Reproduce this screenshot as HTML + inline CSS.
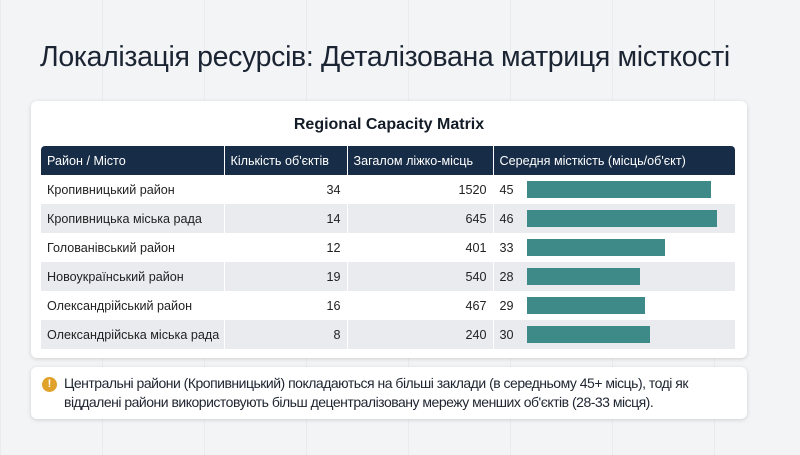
<!DOCTYPE html><html><head><meta charset="utf-8"><style>
body{margin:0;width:800px;height:455px;overflow:hidden;background:#f3f4f5;font-family:"Liberation Sans",sans-serif;position:relative;
background-image:linear-gradient(90deg,rgba(0,0,0,0.035) 1px,transparent 1px);background-size:102px 100%;}
h1{position:absolute;left:40px;top:41px;margin:0;font-size:28.5px;font-weight:normal;color:#1b2433;letter-spacing:-0.35px}
.card{position:absolute;left:31px;top:101px;width:716px;height:257px;background:#fff;border-radius:6px;box-shadow:0 1px 4px rgba(0,0,0,0.15)}
.card h2{margin:0;position:absolute;top:15px;width:100%;text-align:center;font-size:16px;color:#141c28}
table{position:absolute;left:10px;top:45px;border-collapse:collapse;font-size:12.6px;color:#222;table-layout:fixed;width:694px}
th{background:#172c46;color:#fff;font-weight:normal;height:29px;text-align:left;padding:0 6px;border-right:1px solid #fff;white-space:nowrap;overflow:hidden}
th:last-child{border-right:0;border-radius:0 4px 0 0}th:first-child{border-radius:4px 0 0 0}
td{height:29px;padding:0 6px;border-right:1px solid #fff;white-space:nowrap;overflow:hidden}
tr:nth-child(odd) td{background:#e9ebef}
td.n{text-align:right}
.c{display:flex;align-items:center}
.bar{display:inline-block;height:17px;background:#3e8a88;margin-left:13px}
.note{position:absolute;left:31px;top:367px;width:716px;height:52px;background:#fff;border-radius:6px;box-shadow:0 1px 4px rgba(0,0,0,0.15);font-size:14px;color:#1e2530;line-height:19px}
.note .t{position:absolute;left:33px;top:7px;letter-spacing:-0.5px;white-space:nowrap}
.ic{position:absolute;left:11px;top:10px;width:15px;height:15px;border-radius:50%;background:#e0a22a;color:#fff;font-size:11px;text-align:center;line-height:15px;font-weight:bold}
</style></head><body>
<h1>Локалізація ресурсів: Деталізована матриця місткості</h1>
<div class="card"><h2>Regional Capacity Matrix</h2>
<table>
<colgroup><col style="width:183px"><col style="width:123px"><col style="width:146px"><col style="width:242px"></colgroup>
<tr><th>Район / Місто</th><th>Кількість об'єктів</th><th>Загалом ліжко-місць</th><th>Середня місткість (місць/об'єкт)</th></tr>
<tr><td>Кропивницький район</td><td class="n">34</td><td class="n">1520</td><td><div class="c">45<span class="bar" style="width:184px"></span></div></td></tr>
<tr><td>Кропивницька міська рада</td><td class="n">14</td><td class="n">645</td><td><div class="c">46<span class="bar" style="width:190px"></span></div></td></tr>
<tr><td>Голованівський район</td><td class="n">12</td><td class="n">401</td><td><div class="c">33<span class="bar" style="width:138px"></span></div></td></tr>
<tr><td>Новоукраїнський район</td><td class="n">19</td><td class="n">540</td><td><div class="c">28<span class="bar" style="width:113px"></span></div></td></tr>
<tr><td>Олександрійський район</td><td class="n">16</td><td class="n">467</td><td><div class="c">29<span class="bar" style="width:118px"></span></div></td></tr>
<tr><td>Олександрійська міська рада</td><td class="n">8</td><td class="n">240</td><td><div class="c">30<span class="bar" style="width:123px"></span></div></td></tr>
</table></div>
<div class="note"><div class="ic">!</div><div class="t">Центральні райони (Кропивницький) покладаються на більші заклади (в середньому 45+ місць), тоді як<br>віддалені райони використовують більш децентралізовану мережу менших об'єктів (28-33 місця).</div></div>
</body></html>
